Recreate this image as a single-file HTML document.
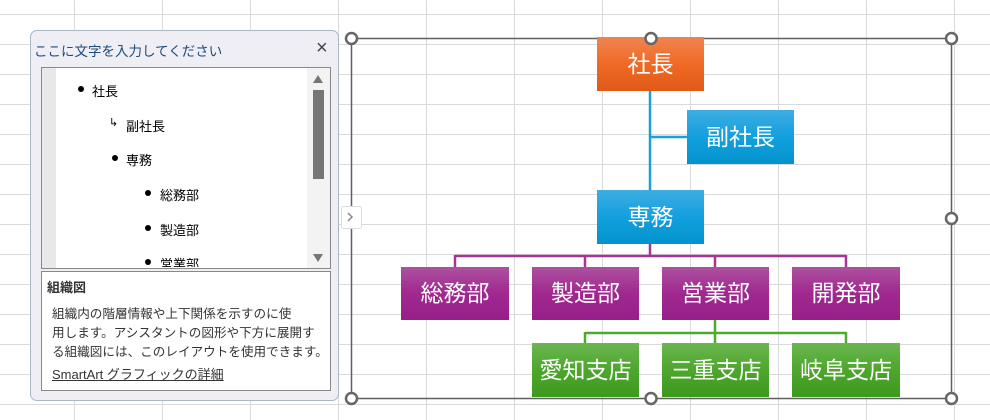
<!DOCTYPE html>
<html><head><meta charset="utf-8"><style>
body{margin:0;width:990px;height:420px;overflow:hidden;background:#fff;font-family:"Liberation Sans","Noto Sans CJK JP",sans-serif}
svg{position:absolute;left:0;top:0}
.p{position:absolute;left:30px;top:30px;width:309px;height:371px;background:#eeeef4;border:1px solid #a9b7c0;border-radius:7px;box-sizing:border-box}
.t{position:absolute;font-size:13px;white-space:nowrap;color:#000}
.d{position:absolute;width:6px;height:6px;border-radius:50%;background:#000}
</style></head><body>
<svg width="990" height="420">
<defs>
<linearGradient id="o" x1="0" y1="0" x2="0" y2="1"><stop offset="0" stop-color="#ef8450"/><stop offset="0.5" stop-color="#f06a26"/><stop offset="1" stop-color="#df5a17"/></linearGradient>
<linearGradient id="b" x1="0" y1="0" x2="0" y2="1"><stop offset="0" stop-color="#3eaee2"/><stop offset="0.5" stop-color="#12a0de"/><stop offset="1" stop-color="#0293cc"/></linearGradient>
<linearGradient id="m" x1="0" y1="0" x2="0" y2="1"><stop offset="0" stop-color="#ad519f"/><stop offset="0.5" stop-color="#a0288f"/><stop offset="1" stop-color="#961f89"/></linearGradient>
<linearGradient id="g" x1="0" y1="0" x2="0" y2="1"><stop offset="0" stop-color="#6bb651"/><stop offset="0.5" stop-color="#4ea62d"/><stop offset="1" stop-color="#3d9a1d"/></linearGradient>
</defs>
<g stroke="#dadada" stroke-width="1">
<path d="M74.5 0V420M162.5 0V420M250.5 0V420M338.5 0V420M426.5 0V420M514.5 0V420M602.5 0V420M690.5 0V420M778.5 0V420M866.5 0V420M954.5 0V420"/>
<path d="M0 14.5H990M0 44.5H990M0 74.5H990M0 104.5H990M0 134.5H990M0 164.5H990M0 194.5H990M0 224.5H990M0 254.5H990M0 284.5H990M0 314.5H990M0 344.5H990M0 374.5H990M0 404.5H990"/>
</g>
<rect x="351.5" y="38.5" width="600" height="360" fill="none" stroke="#5f5f5f" stroke-width="1.5"/>
<g stroke="#1aa0d8" stroke-width="2.5" fill="none"><path d="M650 91V190M650 137H687"/></g>
<g stroke="#a23595" stroke-width="2.5" fill="none"><path d="M650 244V256M455 256H846M455 255V267M585 255V267M715 255V267M846 255V267"/></g>
<g stroke="#4fa82f" stroke-width="2.5" fill="none"><path d="M715 320V333M585 333H846M585 332V343M715 332V343M846 332V343"/></g>
<rect x="597" y="37" width="107" height="54" fill="url(#o)"/>
<rect x="687" y="110" width="107" height="54" fill="url(#b)"/>
<rect x="597" y="190" width="107" height="54" fill="url(#b)"/>
<rect x="401" y="267" width="108" height="53" fill="url(#m)"/>
<rect x="532" y="267" width="107" height="53" fill="url(#m)"/>
<rect x="662" y="267" width="107" height="53" fill="url(#m)"/>
<rect x="792" y="267" width="108" height="53" fill="url(#m)"/>
<rect x="532" y="343" width="107" height="54" fill="url(#g)"/>
<rect x="662" y="343" width="107" height="54" fill="url(#g)"/>
<rect x="792" y="343" width="108" height="54" fill="url(#g)"/>
<g fill="#fff" font-size="23" text-anchor="middle" font-family="Liberation Sans,Noto Sans CJK JP,sans-serif">
<text x="650.5" y="72">社長</text><text x="740.5" y="145">副社長</text><text x="650.5" y="225">専務</text>
<text x="455" y="301">総務部</text><text x="585.5" y="301">製造部</text><text x="715.5" y="301">営業部</text><text x="846" y="301">開発部</text>
<text x="585.5" y="378">愛知支店</text><text x="715.5" y="378">三重支店</text><text x="846" y="378">岐阜支店</text>
</g>
<g fill="#fff" stroke="#666" stroke-width="2.5">
<circle cx="351.5" cy="38.5" r="5.5"/><circle cx="651" cy="38.5" r="5.5"/><circle cx="951.5" cy="38.5" r="5.5"/>
<circle cx="951.5" cy="218.5" r="5.5"/><circle cx="351.5" cy="398.5" r="5.5"/><circle cx="651" cy="398.5" r="5.5"/><circle cx="951.5" cy="398.5" r="5.5"/>
</g>
<rect x="341.5" y="206.5" width="20" height="22" fill="#fff" stroke="#ddd" rx="2"/>
<path d="M348 213l4 4-4 4" stroke="#888" stroke-width="1.5" fill="none"/>
</svg>
<div class="p"></div>
<div class="t" style="left:34px;top:40px;color:#1e4a7a;font-size:13.5px">ここに文字を入力してください</div>
<div class="t" style="left:316px;top:37px;font-size:20px;color:#444">×</div>
<div style="position:absolute;left:41px;top:67px;width:290px;height:202px;background:#fff;border:1px solid #888;box-sizing:border-box">
<div style="position:absolute;left:0;top:0;width:14px;height:200px;background:#e8e8e8"></div>
<div style="position:absolute;left:265px;top:0;width:23px;height:200px;background:#f3f3f3"></div>
<div style="position:absolute;left:271px;top:22px;width:11px;height:89px;background:#767676"></div>
<div style="position:absolute;left:271px;top:7px;width:0;height:0;border:5.5px solid transparent;border-bottom:8px solid #767676;border-top:0"></div>
<div style="position:absolute;left:271px;top:186px;width:0;height:0;border:5.5px solid transparent;border-top:8px solid #767676;border-bottom:0"></div>
</div>
<div class="d" style="left:78px;top:86px"></div><div class="t" style="left:92px;top:81px">社長</div>
<div class="t" style="left:109px;top:116px;font-size:11px">↳</div><div class="t" style="left:126px;top:116px">副社長</div>
<div class="d" style="left:112px;top:155px"></div><div class="t" style="left:126px;top:150px">専務</div>
<div class="d" style="left:145px;top:190px"></div><div class="t" style="left:160px;top:185px">総務部</div>
<div class="d" style="left:145px;top:225px"></div><div class="t" style="left:160px;top:220px">製造部</div>
<div style="position:absolute;left:56px;top:250px;width:250px;height:17px;overflow:hidden"><div class="d" style="left:89px;top:9px"></div><div class="t" style="left:104px;top:4px">営業部</div></div>
<div style="position:absolute;left:41px;top:271px;width:290px;height:120px;background:#fff;border:1px solid #888;box-sizing:border-box"></div>
<div class="t" style="left:47px;top:277px;font-weight:bold;color:#333">組織図</div>
<div class="t" style="left:52px;top:303px;color:#333;font-size:12.6px">組織内の階層情報や上下関係を示すのに使</div>
<div class="t" style="left:52px;top:322px;color:#333;font-size:12.6px">用します。アシスタントの図形や下方に展開す</div>
<div class="t" style="left:52px;top:341px;color:#333;font-size:12.6px">る組織図には、このレイアウトを使用できます。</div>
<div class="t" style="left:52px;top:364px;color:#333;text-decoration:underline">SmartArt グラフィックの詳細</div>
</body></html>
